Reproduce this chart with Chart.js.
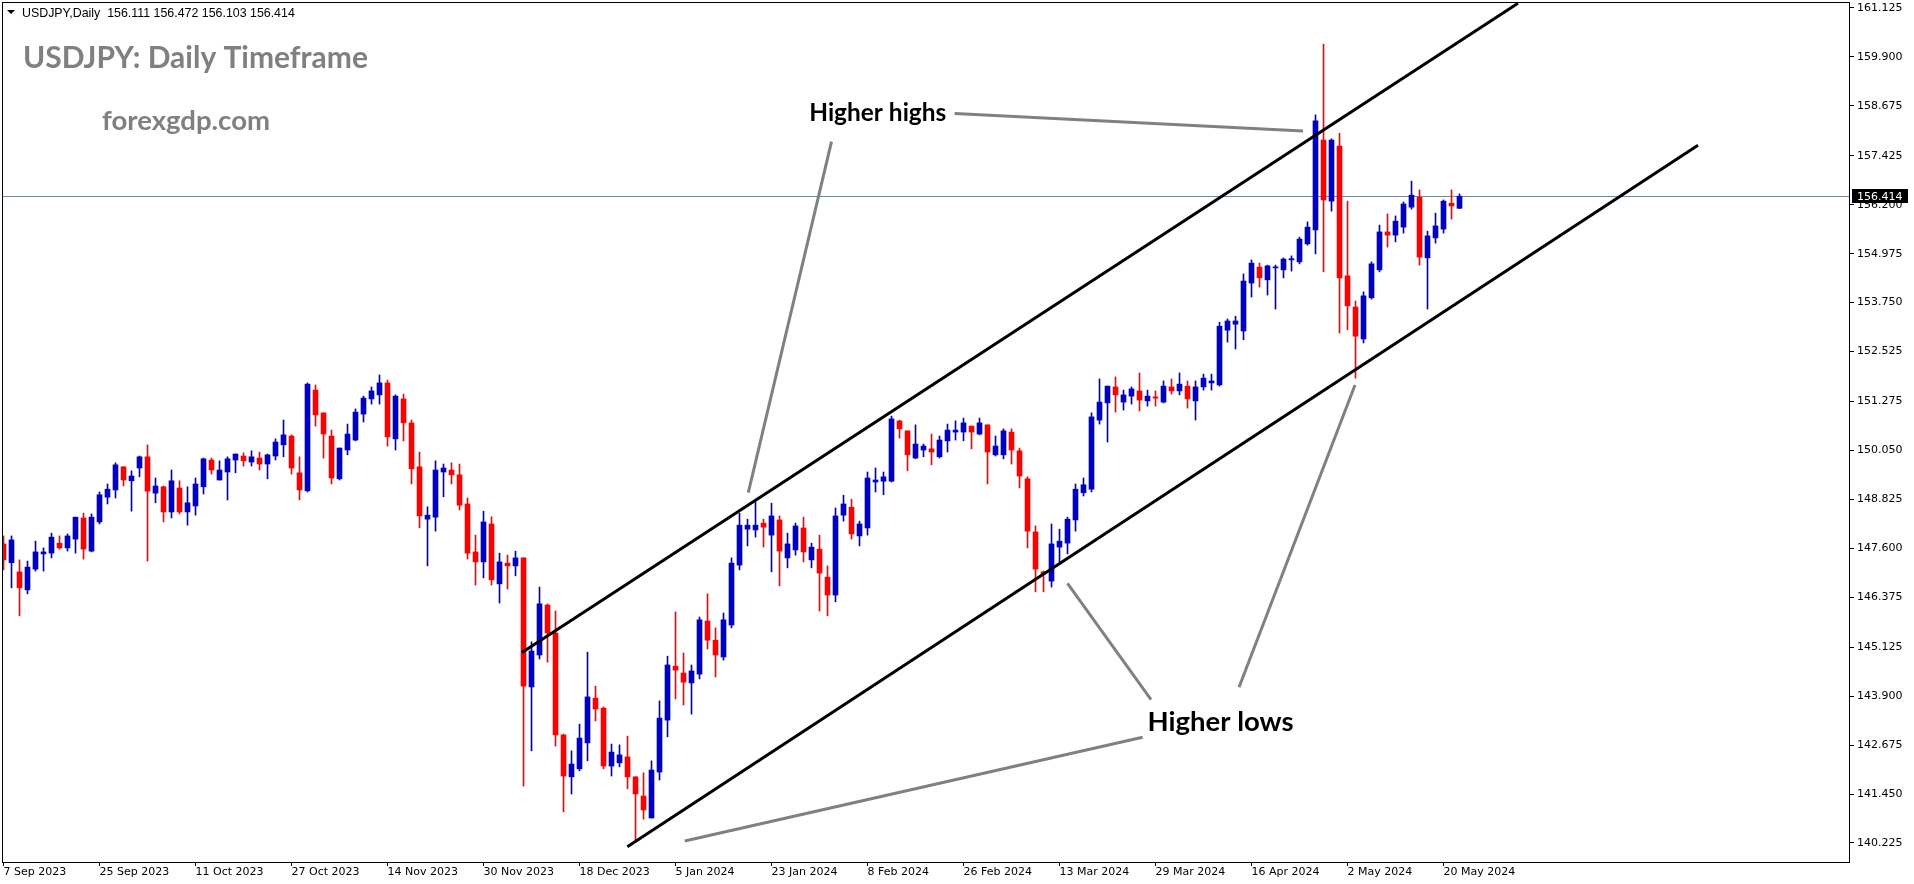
<!DOCTYPE html>
<html>
<head>
<meta charset="utf-8">
<title>USDJPY Daily</title>
<script src="https://cdn.jsdelivr.net/npm/chart.js@4.4.1/dist/chart.umd.min.js"></script>
<style>
  html, body { margin: 0; padding: 0; background: #fff; }
  canvas { display: block; }
</style>
</head>
<body>
<canvas id="chart" width="1914" height="884"></canvas>
<script>
//////////////////////////////////////////////////
// Data (USDJPY daily candles, 7 Sep 2023 .. 22 May 2024)

const opens = [
  147.71, 147.24, 147.01, 146.56, 147.08, 147.46, 147.48, 147.73, 147.61, 147.83,
  148.36, 147.53, 148.26, 148.88, 149.06, 149.64, 149.29, 149.61, 149.89, 148.98,
  149.14, 148.51, 149.11, 148.51, 148.66, 149.14, 149.81, 149.31, 149.51, 149.81,
  149.91, 149.76, 149.86, 149.71, 149.91, 150.19, 150.41, 149.49, 149.04, 151.56,
  150.99, 150.41, 149.34, 150.06, 150.31, 150.96, 151.34, 151.44, 151.74, 150.34,
  151.34, 150.74, 149.64, 148.33, 148.38, 149.51, 149.56, 149.44, 148.71, 147.51,
  147.26, 148.21, 146.71, 147.23, 147.16, 147.36, 144.13, 144.93, 146.18, 145.48,
  142.93, 141.88, 142.08, 142.73, 143.85, 143.60, 142.15, 142.23, 142.38, 141.88,
  141.40, 140.85, 142.00, 143.30, 144.65, 144.48, 144.23, 144.45, 145.78, 145.30,
  144.88, 145.68, 147.18, 148.08, 148.06, 148.23, 147.93, 148.31, 147.36, 147.56,
  148.11, 147.31, 147.58, 146.88, 146.43, 148.43, 148.63, 147.91, 148.11, 149.26,
  149.28, 149.28, 150.79, 150.54, 149.86, 150.06, 150.09, 149.89, 150.29, 150.51,
  150.51, 150.66, 150.46, 150.69, 149.94, 149.94, 150.51, 150.04, 149.34, 148.01,
  147.01, 146.78, 147.63, 147.73, 148.31, 148.99, 149.08, 150.81, 151.24, 151.64,
  151.26, 151.41, 151.54, 151.29, 151.39, 151.26, 151.64, 151.54, 151.66, 151.29,
  151.64, 151.74, 151.69, 153.06, 153.21, 153.04, 154.24, 154.64, 154.32, 154.62,
  154.57, 154.82, 154.77, 155.22, 155.57, 157.82, 156.29, 157.67, 154.42, 153.64,
  152.84, 153.87, 154.57, 155.52, 155.44, 155.64, 156.14, 156.39, 154.87, 155.37,
  155.59, 156.24, 156.111
]
const highs = [
  147.91, 147.91, 147.31, 147.28, 147.78, 147.61, 147.98, 147.91, 147.96, 148.38,
  148.48, 148.46, 149.01, 149.21, 149.74, 149.64, 149.54, 149.91, 150.19, 149.36,
  149.16, 149.56, 149.29, 149.14, 149.36, 149.86, 149.86, 149.79, 149.89, 149.96,
  149.99, 150.04, 150.01, 149.96, 150.34, 150.81, 150.44, 149.89, 151.74, 151.69,
  150.99, 150.56, 150.11, 150.71, 151.09, 151.41, 151.64, 151.94, 151.81, 151.44,
  151.46, 150.81, 150.01, 148.64, 149.79, 149.71, 149.74, 149.71, 148.86, 147.93,
  148.53, 148.39, 147.48, 147.43, 147.53, 147.36, 145.26, 146.63, 146.21, 146.03,
  142.95, 142.53, 143.20, 145.00, 144.15, 143.63, 142.70, 142.68, 142.90, 141.88,
  141.98, 142.28, 143.78, 144.90, 146.01, 144.98, 144.68, 145.88, 146.46, 145.61,
  145.98, 147.36, 148.48, 148.33, 148.76, 148.33, 148.73, 148.41, 147.98, 148.23,
  148.38, 147.73, 147.93, 147.16, 148.61, 148.93, 148.83, 148.28, 149.51, 149.61,
  149.51, 150.91, 150.81, 150.54, 150.69, 150.21, 150.46, 150.41, 150.71, 150.79,
  150.86, 150.66, 150.86, 150.69, 150.41, 150.59, 150.59, 150.11, 149.39, 148.16,
  147.03, 148.21, 148.08, 148.38, 149.21, 149.36, 150.99, 151.84, 151.66, 151.89,
  151.56, 151.64, 151.99, 151.56, 151.54, 151.79, 151.84, 151.99, 151.79, 151.79,
  151.96, 151.96, 153.26, 153.34, 153.41, 154.47, 154.82, 154.74, 154.69, 154.69,
  154.87, 154.92, 155.39, 155.77, 158.45, 160.22, 157.85, 157.99, 156.29, 153.79,
  154.02, 154.77, 155.69, 155.97, 155.92, 156.27, 156.79, 156.57, 155.54, 155.99,
  156.32, 156.57, 156.472
]
const lows = [
  147.06, 146.61, 145.91, 146.46, 147.03, 147.03, 147.36, 147.58, 147.53, 147.48,
  147.33, 147.51, 148.21, 148.71, 148.86, 149.16, 148.53, 149.39, 147.28, 148.74,
  148.26, 148.36, 148.46, 148.18, 148.43, 148.96, 149.46, 149.31, 148.81, 149.49,
  149.66, 149.66, 149.56, 149.34, 149.81, 149.89, 149.46, 148.81, 149.01, 150.66,
  149.86, 149.21, 149.31, 149.94, 150.29, 150.76, 151.21, 151.21, 150.16, 150.06,
  150.29, 149.21, 148.11, 147.16, 148.03, 148.89, 149.21, 148.56, 147.33, 146.68,
  146.86, 146.68, 146.23, 146.58, 146.91, 141.65, 142.53, 144.83, 144.75, 142.65,
  141.00, 141.45, 142.03, 142.28, 143.28, 142.08, 141.90, 142.13, 141.58, 140.27,
  140.82, 140.85, 141.80, 142.88, 143.83, 143.68, 143.45, 144.33, 145.08, 144.38,
  144.80, 145.61, 147.06, 147.66, 147.88, 147.63, 147.01, 146.66, 147.11, 147.43,
  147.26, 147.11, 146.03, 145.91, 146.26, 148.28, 147.83, 147.66, 147.93, 149.01,
  148.94, 149.26, 150.36, 149.54, 149.84, 149.89, 149.69, 149.86, 150.01, 150.31,
  150.29, 150.09, 150.44, 149.21, 149.91, 149.84, 149.71, 149.11, 147.61, 146.51,
  146.51, 146.63, 147.26, 147.46, 148.03, 148.91, 149.01, 150.71, 150.26, 151.01,
  151.06, 151.21, 151.04, 151.16, 151.16, 151.24, 151.46, 151.44, 151.11, 150.81,
  151.56, 151.56, 151.66, 152.76, 152.59, 152.82, 153.89, 154.14, 153.94, 153.59,
  154.37, 154.54, 154.72, 155.19, 154.97, 154.52, 156.04, 152.99, 153.07, 151.86,
  152.74, 153.84, 154.52, 155.14, 155.27, 155.49, 156.09, 154.69, 153.59, 155.24,
  155.49, 155.84, 156.103
]
const closes = [
  147.31, 147.81, 146.61, 147.13, 147.51, 147.51, 147.88, 147.61, 147.91, 148.38,
  147.58, 148.38, 148.94, 149.08, 149.69, 149.31, 149.41, 149.89, 149.03, 149.16,
  148.51, 149.29, 148.51, 148.74, 149.21, 149.84, 149.56, 149.56, 149.84, 149.96,
  149.79, 149.89, 149.71, 149.94, 150.26, 150.44, 149.61, 149.06, 151.71, 150.94,
  150.46, 149.36, 150.11, 150.46, 151.01, 151.36, 151.54, 151.74, 150.39, 151.41,
  150.74, 149.59, 148.41, 148.43, 149.56, 149.61, 149.44, 148.68, 147.48, 147.26,
  148.26, 146.81, 147.26, 147.16, 147.36, 144.15, 145.03, 146.21, 145.48, 142.93,
  141.90, 142.20, 142.85, 143.88, 143.58, 142.15, 142.50, 142.43, 141.88, 141.45,
  141.05, 142.05, 143.35, 144.68, 144.55, 144.25, 144.53, 145.81, 145.30, 144.93,
  145.81, 147.23, 148.18, 148.18, 148.18, 148.13, 148.41, 147.53, 147.71, 148.16,
  147.51, 147.63, 146.98, 146.43, 148.41, 148.71, 147.96, 148.21, 149.36, 149.31,
  149.39, 150.84, 150.59, 149.94, 150.21, 150.16, 150.01, 150.31, 150.56, 150.56,
  150.74, 150.51, 150.74, 150.01, 150.16, 150.54, 150.06, 149.41, 148.03, 147.08,
  146.96, 147.71, 147.78, 148.33, 149.08, 149.19, 150.89, 151.26, 151.66, 151.44,
  151.44, 151.59, 151.31, 151.41, 151.36, 151.66, 151.54, 151.71, 151.34, 151.64,
  151.86, 151.79, 153.16, 153.29, 153.29, 154.29, 154.74, 154.37, 154.67, 154.64,
  154.84, 154.85, 155.34, 155.64, 158.30, 156.32, 157.82, 154.37, 153.67, 152.91,
  153.92, 154.72, 155.52, 155.44, 155.79, 156.22, 156.44, 154.89, 155.42, 155.67,
  156.29, 156.17, 156.414
]

// x axis labels sit on every 12th bar
const dateTickBars = [0, 12, 24, 36, 48, 60, 72, 84, 96, 108, 120, 132, 144, 156, 168, 180]
const dateTickLabels = [
  '7 Sep 2023', '25 Sep 2023', '11 Oct 2023', '27 Oct 2023', '14 Nov 2023', '30 Nov 2023',
  '18 Dec 2023', '5 Jan 2024', '23 Jan 2024', '8 Feb 2024', '26 Feb 2024', '13 Mar 2024',
  '29 Mar 2024', '16 Apr 2024', '2 May 2024', '20 May 2024'
]
const priceTicks = [
  161.125, 159.900, 158.675, 157.425, 156.200, 154.975, 153.750, 152.525, 151.275,
  150.050, 148.825, 147.600, 146.375, 145.125, 143.900, 142.675, 141.450, 140.225
]

// Drawn trend lines, as [bar, price] end points
const channelUpper = [[64.81, 144.99], [189.31, 161.243]]
const channelLower = [[77.98, 140.13], [211.81, 157.69]]
const pointers = [
  [[118.89, 158.484], [162.44, 158.046]],
  [[103.5, 157.781], [93.1, 148.992]],
  [[133.0, 146.72], [143.44, 143.815]],
  [[154.44, 144.121], [168.94, 151.688]],
  [[142.39, 142.87], [85.16, 140.274]]
]

//////////////////////////////////////////////////
// Settings

const BLUE = '#0000CD'
const RED = '#FF0000'
const AXIS_FONT = { family: 'DejaVu Sans', size: 11 }
const lastBar = closes.length - 1

const bars = closes.map((c, i) => i)
const candleColors = bars.map((i) => closes[i] >= opens[i] ? BLUE : RED)

const lineSet = (pts, color, width, order) => ({
  type: 'line',
  data: pts.map(([x, y]) => ({ x, y })),
  borderColor: color,
  borderWidth: width,
  borderCapStyle: 'butt',
  pointRadius: 0,
  tension: 0,
  order
})

const datasets = [
  lineSet(channelUpper, '#000', 3, 1),
  lineSet(channelLower, '#000', 3, 1),
  ...pointers.map((p) => lineSet(p, '#808080', 3, 2)),
  {
    label: 'bodies',
    data: bars.map((i) => ({ x: i, y: [opens[i], closes[i]] })),
    backgroundColor: candleColors,
    barThickness: 5,
    minBarLength: 1,
    grouped: false,
    order: 3
  },
  {
    label: 'wicks',
    data: bars.map((i) => ({ x: i, y: [lows[i], highs[i]] })),
    backgroundColor: candleColors,
    barThickness: 1,
    grouped: false,
    order: 4
  }
]

// Size a font so the text fills a given width
const fitFont = (ctx, text, weight, family, width) => {
  ctx.font = `${weight} 100px "${family}"`
  const w = ctx.measureText(text).width
  return `${weight} ${(100 * width / w).toFixed(2)}px "${family}"`
}

const overlay = {
  id: 'overlay',
  // bid line goes under the candles
  beforeDatasetsDraw (chart) {
    const { ctx, chartArea: a, scales: { y } } = chart
    const py = Math.round(y.getPixelForValue(closes[lastBar])) + 0.5
    ctx.save()
    ctx.strokeStyle = '#778899'
    ctx.lineWidth = 1
    ctx.beginPath()
    ctx.moveTo(a.left, py)
    ctx.lineTo(a.right, py)
    ctx.stroke()
    ctx.restore()
  },
  afterDraw (chart) {
    const { ctx, chartArea: a, scales: { x, y } } = chart
    ctx.save()

    // plot frame
    ctx.strokeStyle = '#000'
    ctx.lineWidth = 1
    ctx.strokeRect(a.left + 0.5, a.top + 0.5, a.right - a.left - 1, a.bottom - a.top)

    // current price label on the axis
    const py = Math.round(y.getPixelForValue(closes[lastBar]))
    ctx.fillStyle = '#000'
    ctx.fillRect(a.right + 2, py - 7, 56, 14)
    ctx.fillStyle = '#fff'
    ctx.font = '11px "DejaVu Sans"'
    ctx.textBaseline = 'middle'
    ctx.fillText(closes[lastBar].toFixed(3), a.right + 7, py + 1)

    // header line
    ctx.textBaseline = 'alphabetic'
    ctx.fillStyle = '#000'
    ctx.beginPath()
    ctx.moveTo(7, 10); ctx.lineTo(15, 10); ctx.lineTo(11, 14); ctx.closePath()
    ctx.fill()
    const header = `USDJPY,Daily  ${opens[lastBar].toFixed(3)} ${highs[lastBar].toFixed(3)} ` +
      `${lows[lastBar].toFixed(3)} ${closes[lastBar].toFixed(3)}`
    ctx.font = fitFont(ctx, header, 'normal', 'Liberation Sans', 273)
    ctx.fillText(header, 22, 17)

    // title and watermark
    ctx.fillStyle = '#808080'
    ctx.font = fitFont(ctx, 'USDJPY: Daily Timeframe', 'bold', 'Lato', 345)
    ctx.fillText('USDJPY: Daily Timeframe', 23, 68)
    ctx.font = fitFont(ctx, 'forexgdp.com', 'bold', 'Lato', 168)
    ctx.fillText('forexgdp.com', 102, 130)

    // annotations
    ctx.fillStyle = '#000'
    ctx.font = fitFont(ctx, 'Higher highs', 'bold', 'Lato', 137)
    ctx.fillText('Higher highs', x.getPixelForValue(100.72), y.getPixelForValue(158.30))
    ctx.font = fitFont(ctx, 'Higher lows', 'bold', 'Lato', 146)
    ctx.fillText('Higher lows', x.getPixelForValue(143.0), y.getPixelForValue(143.03))

    ctx.restore()
  }
}

new Chart(document.getElementById('chart'), {
  type: 'bar',
  data: { datasets },
  plugins: [overlay],
  options: {
    responsive: false,
    animation: false,
    devicePixelRatio: 1,
    layout: { padding: { left: 2, top: 2 } },
    plugins: {
      legend: { display: false },
      tooltip: { enabled: false }
    },
    scales: {
      x: {
        type: 'linear',
        min: -0.1875,
        max: 230.8125,
        offset: false,
        afterFit: (s) => {
          s.height = 22
          s.paddingLeft = 0
          s.paddingRight = 0
        },
        afterBuildTicks: (s) => { s.ticks = dateTickBars.map((v) => ({ value: v })) },
        border: { display: false },
        grid: { offset: false, drawOnChartArea: false, tickLength: 4, color: '#000' },
        ticks: {
          align: 'start',
          autoSkip: false,
          maxRotation: 0,
          padding: 0,
          color: '#000',
          font: AXIS_FONT,
          callback: (v) => dateTickLabels[dateTickBars.indexOf(v)]
        }
      },
      y: {
        position: 'right',
        min: 139.748,
        max: 161.275,
        afterFit: (s) => {
          s.width = 64
          s.paddingTop = 0
          s.paddingBottom = 0
        },
        afterBuildTicks: (s) => { s.ticks = priceTicks.map((v) => ({ value: v })) },
        border: { display: false },
        grid: { drawOnChartArea: false, tickLength: 4, color: '#000' },
        ticks: {
          padding: 3,
          color: '#000',
          font: AXIS_FONT,
          callback: (v) => v.toFixed(3)
        }
      }
    }
  }
})
</script>
</body>
</html>
